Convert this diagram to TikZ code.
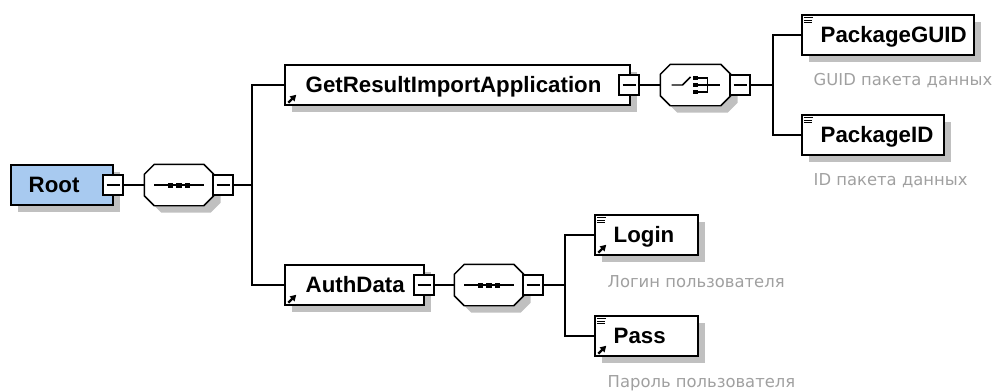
\documentclass[tikz,border=0pt]{standalone}
\usepackage{fontspec}
\setmainfont{Liberation Sans}
\newfontfamily\descfont{DejaVu Sans}
\usetikzlibrary{calc,arrows.meta,shadows}
\definecolor{rootblue}{RGB}{168,202,240}
\definecolor{shadowgray}{RGB}{192,192,192}
\definecolor{descgray}{RGB}{160,160,160}
\newcommand\drawoct[1]{%
  \draw[fill=white,gshadow] ($(#1.north west)+(10,0)$) -- ($(#1.north east)+(-10,0)$) -- ($(#1.north east)+(0,10)$) -- ($(#1.south east)+(0,-10)$) -- ($(#1.south east)+(-10,0)$) -- ($(#1.south west)+(10,0)$) -- ($(#1.south west)+(0,-10)$) -- ($(#1.north west)+(0,10)$) -- cycle;}
\newcommand\seqsym[1]{%
  \draw ($(#1.west)+(10,0)$) -- ($(#1.east)+(-10,0)$);
  \foreach \dx in {-8.5,0,8.5}{\fill ($(#1.center)+(\dx,0)+(-2.7,-2.5)$) rectangle +(5.4,5);}}
\newcommand\choicesym[1]{%
  \draw ($(#1.center)+(-24,0)$) -- ($(#1.center)+(-13,0)$) -- ($(#1.center)+(-5,-8)$);
  \draw ($(#1.center)+(0,-7)$) -- ($(#1.center)+(12,-7)$) -- ($(#1.center)+(12,7)$) -- ($(#1.center)+(0,7)$);
  \draw ($(#1.center)+(0,0)$) -- ($(#1.center)+(24,0)$);
  \foreach \dy in {-7,0,7}{\fill ($(#1.center)+(0,\dy)+(-2.4,-2.2)$) rectangle +(4.8,4.4);}}
\newcommand\refarrow[1]{%
  \draw[line width=1.7pt,-{Triangle[length=4.5pt,width=5pt]}] ($(#1.south west)+(4,-3)$) -- ($(#1.south west)+(12,-11)$);}
\newcommand\simplesym[1]{%
  \draw[line width=0.85pt] ($(#1.north west)+(3,3)$) -- +(8.5,0);
  \draw[line width=0.85pt] ($(#1.north west)+(3,5.8)$) -- +(7.5,0);
  \draw[line width=0.85pt] ($(#1.north west)+(3,8.6)$) -- +(7.5,0);}
\begin{document}
\begin{tikzpicture}[x=0.75pt,y=-0.75pt,line width=1.1pt,
  gshadow/.style={general shadow={fill=shadowgray,draw=none,shadow xshift=5.25pt,shadow yshift=-5.25pt}},
  elbox/.style={rectangle,draw=black,fill=white,minimum height=30pt,inner sep=0pt,gshadow},
  cbox/.style={rectangle,draw=black,fill=white,minimum width=15pt,minimum height=15pt,inner sep=0pt,
    path picture={\draw[line width=0.9pt] ($(path picture bounding box.west)+(3.5,0)$) -- ($(path picture bounding box.east)+(-3.5,0)$);}},
  octnode/.style={rectangle,draw=none,minimum width=51pt,minimum height=30pt,inner sep=0pt},
  lbl/.style={anchor=base west,inner sep=0pt,font=\fontsize{16.7}{18}\selectfont\bfseries,text=black},
  desc/.style={anchor=base west,inner sep=0pt,font=\descfont\fontsize{12.3}{14}\selectfont,text=descgray}]
\useasboundingbox (0,0) rectangle (997,390);

% Root
\node[elbox,fill=rootblue,minimum width=76.5pt] (root) at (62,185) {};
\node[lbl] (rootl) at (28,192.5) {Root};
\node[cbox] (rootc) at (113,185) {};

% sequence 1
\node[octnode] (seq1) at (179,185) {};
\drawoct{seq1}
\seqsym{seq1}
\node[cbox] (seq1c) at (223,185) {};
\coordinate (j1) at (252,185);

% GetResultImportApplication
\node[elbox,minimum width=258.75pt] (gra) at (457.5,85) {};
\node[lbl] (gral) at (305,92.5) {GetResultImportApplication};
\refarrow{gra}
\node[cbox] (grac) at (629,85) {};

% choice
\node[octnode,minimum width=51.75pt] (ch) at (695.5,85) {};
\drawoct{ch}
\choicesym{ch}
\node[cbox] (chc) at (740,85) {};
\coordinate (j2) at (773,85);

% PackageGUID
\node[elbox,minimum width=129pt] (pguid) at (888,35) {};
\simplesym{pguid}
\node[lbl] (pguidl) at (820,42.5) {PackageGUID};
\node[desc] (pguidd) at (813,85) {GUID пакета данных};

% PackageID
\node[elbox,minimum width=106.5pt] (pid) at (873,135) {};
\simplesym{pid}
\node[lbl] (pidl) at (820,142.5) {PackageID};
\node[desc] (pidd) at (813,185) {ID пакета данных};

% AuthData
\node[elbox,minimum width=104.25pt] (auth) at (354.5,285) {};
\node[lbl] (authl) at (305,292.5) {AuthData};
\refarrow{auth}
\node[cbox] (authc) at (424,285) {};

% sequence 2
\node[octnode] (seq2) at (489,285) {};
\drawoct{seq2}
\seqsym{seq2}
\node[cbox] (seq2c) at (533,285) {};
\coordinate (j3) at (565,285);

% Login
\node[elbox,minimum width=77.25pt] (login) at (646.5,235) {};
\simplesym{login}
\refarrow{login}
\node[lbl] (loginl) at (613,242.5) {Login};
\node[desc] (logind) at (607,287) {Логин пользователя};

% Pass
\node[elbox,minimum width=77.25pt] (pass) at (646.5,336) {};
\simplesym{pass}
\refarrow{pass}
\node[lbl] (passl) at (613,343.5) {Pass};
\node[desc] (passd) at (607,387) {Пароль пользователя};

% connectors
\draw (rootc.east) -- (seq1.west);
\draw (seq1c.east) -- (j1);
\draw (j1) |- (gra.west);
\draw (j1) |- (auth.west);
\draw (grac.east) -- (ch.west);
\draw (chc.east) -- (j2);
\draw (j2) |- (pguid.west);
\draw (j2) |- (pid.west);
\draw (authc.east) -- (seq2.west);
\draw (seq2c.east) -- (j3);
\draw (j3) |- (login.west);
\draw (j3) |- (pass.west);
\end{tikzpicture}
\end{document}
